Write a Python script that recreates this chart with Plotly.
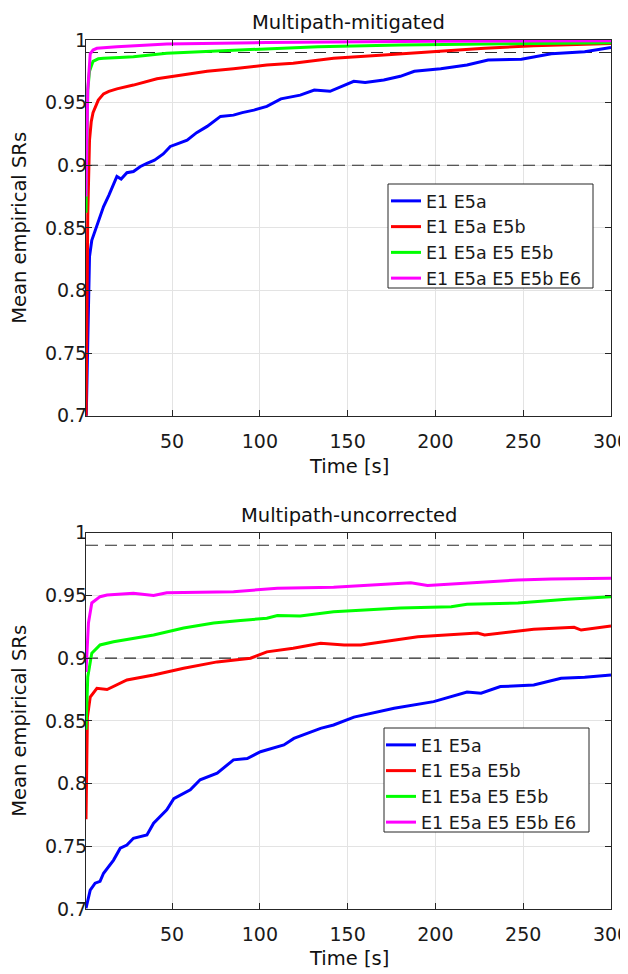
import plotly.graph_objects as go

# ---------------- data ----------------
series_names = ["E1 E5a", "E1 E5a E5b", "E1 E5a E5 E5b", "E1 E5a E5 E5b E6"]
series_colors = ["#0000ff", "#ff0000", "#00ff00", "#ff00ff"]

# Multipath-mitigated
mit_t_e1e5a = [1, 2, 3, 4.3, 6.2, 8, 11, 14, 18.6, 21, 24.3, 28, 32, 35.7, 40, 45, 49, 53, 58.6, 64, 70,
               77.6, 85, 90, 96.6, 104, 112, 123, 131, 140, 153.5, 160, 170.6, 180, 188, 203, 218, 230,
               249, 266, 285, 300]
mit_v_e1e5a = [0.69, 0.76, 0.827, 0.84, 0.848, 0.856, 0.867, 0.876, 0.891, 0.889, 0.894, 0.895, 0.899,
               0.9015, 0.904, 0.909, 0.915, 0.917, 0.92, 0.926, 0.931, 0.939, 0.94, 0.942, 0.944, 0.947,
               0.953, 0.956, 0.96, 0.959, 0.967, 0.966, 0.968, 0.971, 0.975, 0.977, 0.98, 0.984, 0.9846,
               0.989, 0.9907, 0.994]
mit_t_e5b = [1, 2, 3, 4, 5, 6.6, 8, 11, 14, 18.6, 28, 41.4, 56.6, 70, 85, 104, 119, 133, 142, 170.6,
             199, 228, 256, 280, 300]
mit_v_e5b = [0.69, 0.86, 0.92, 0.935, 0.942, 0.947, 0.952, 0.957, 0.959, 0.961, 0.964, 0.969, 0.972,
             0.975, 0.977, 0.98, 0.9814, 0.9835, 0.9854, 0.988, 0.9907, 0.9934, 0.9955, 0.9965, 0.9973]
mit_t_e5 = [1, 2, 3, 5, 8, 11, 20, 28, 47, 85, 133, 180, 240, 300]
mit_v_e5 = [0.862, 0.96, 0.975, 0.983, 0.985, 0.9854, 0.986, 0.9867, 0.9894, 0.992, 0.9947, 0.996,
            0.997, 0.9978]
mit_t_e6 = [1, 2, 3.4, 5, 7.2, 18.6, 47, 104, 200, 300]
mit_v_e6 = [0.875, 0.96, 0.989, 0.992, 0.9934, 0.9947, 0.9968, 0.998, 0.999, 0.9995]

# Multipath-uncorrected
unc_t_e1e5a = [1, 3.4, 6.2, 9, 11, 16.7, 20.5, 24.3, 28, 35.7, 39.5, 47, 51, 60.4, 66, 75.7, 85, 92.8,
               100.4, 113.7, 119.4, 127, 134.6, 142, 153.6, 176.5, 199, 218, 226, 237, 256, 271.6, 285, 300]
unc_v_e1e5a = [0.7006, 0.715, 0.7206, 0.722, 0.7285, 0.739, 0.7485, 0.751, 0.7564, 0.759, 0.7684, 0.779,
               0.788, 0.795, 0.803, 0.8083, 0.8189, 0.820, 0.8254, 0.8308, 0.836, 0.84, 0.844, 0.8467,
               0.853, 0.86, 0.8653, 0.873, 0.872, 0.8773, 0.8786, 0.884, 0.8847, 0.8866]
unc_t_e5b = [1, 1.8, 3.4, 7.2, 13, 24.3, 39.5, 56.6, 75.7, 94.7, 104, 119, 134.6, 148, 157.5, 170.8, 190,
             224, 228, 256, 279, 283, 300]
unc_v_e5b = [0.7716, 0.853, 0.869, 0.876, 0.875, 0.8826, 0.8866, 0.892, 0.897, 0.8999, 0.905, 0.9079,
             0.9118, 0.9105, 0.9105, 0.913, 0.917, 0.920, 0.9185, 0.923, 0.9246, 0.9224, 0.9256]
unc_t_e5 = [1, 2, 4.3, 9, 16.7, 28, 39.5, 56.6, 73.7, 89, 104, 110, 123, 142, 180, 209, 218, 247, 275, 300]
unc_v_e5 = [0.843, 0.885, 0.904, 0.9105, 0.913, 0.916, 0.9185, 0.924, 0.928, 0.930, 0.9318, 0.934,
            0.9336, 0.937, 0.94, 0.941, 0.943, 0.944, 0.947, 0.949]
unc_t_e6 = [1, 2.4, 4.3, 9, 13, 28, 39.5, 47, 85, 110, 142, 161, 186, 195.5, 218, 247, 266, 300]
unc_v_e6 = [0.889, 0.928, 0.944, 0.949, 0.9503, 0.9517, 0.950, 0.9522, 0.953, 0.9557, 0.9565, 0.958,
            0.96, 0.958, 0.96, 0.9623, 0.963, 0.9637]

threshold_levels = [0.99, 0.9]
x_tick_vals = [50, 100, 150, 200, 250, 300]
y_tick_vals = [0.7, 0.75, 0.8, 0.85, 0.9, 0.95, 1.0]
y_tick_text = ["0.7", "0.75", "0.8", "0.85", "0.9", "0.95", "1"]
panel_titles = ["Multipath-mitigated", "Multipath-uncorrected"]
x_label = "Time [s]"
y_label = "Mean empirical SRs"

# ---------------- figure ----------------
FONT = "DejaVu Sans"
OFF = 8  # page body margin around the rendered figure
W, H = 628, 974 - OFF
# target screenshot pixels of the plot areas
L_PX, R_PX = 86, 611
TOP_T, TOP_B = 40, 415.7
BOT_T, BOT_B = 532.7, 909

ML, MR = L_PX - OFF, W - (R_PX - OFF)
MT, MB = TOP_T - OFF, H - (BOT_B - OFF)
plot_h = H - MT - MB
plot_w = W - ML - MR

def py(pix):  # paper y from screenshot pixel y
    return 1 - (pix - OFF - MT) / plot_h

def px(pix):  # paper x from screenshot pixel x
    return (pix - OFF - ML) / plot_w

fig = go.Figure()

panels = [
    ([mit_t_e1e5a, mit_t_e5b, mit_t_e5, mit_t_e6], [mit_v_e1e5a, mit_v_e5b, mit_v_e5, mit_v_e6], "x", "y", "legend"),
    ([unc_t_e1e5a, unc_t_e5b, unc_t_e5, unc_t_e6], [unc_v_e1e5a, unc_v_e5b, unc_v_e5, unc_v_e6], "x2", "y2", "legend2"),
]

for ts, vs, xa, ya, lg in panels:
    for lvl in threshold_levels:
        fig.add_trace(go.Scatter(x=[1, 300], y=[lvl, lvl], mode="lines", xaxis=xa, yaxis=ya,
                                 line=dict(color="#2a2a2a", width=1.2, dash="12px,7px"),
                                 showlegend=False, hoverinfo="skip"))
    for name, col, t, v in zip(series_names, series_colors, ts, vs):
        fig.add_trace(go.Scatter(x=t, y=v, mode="lines", name=name, xaxis=xa, yaxis=ya,
                                 line=dict(color=col, width=3), legend=lg))

axis_common = dict(
    showline=True, linecolor="#262626", linewidth=1, mirror="ticks",
    ticks="inside", ticklen=6, tickcolor="#262626", automargin=False,
    showgrid=True, gridcolor="#e3e3e3", gridwidth=1, zeroline=False,
    tickfont=dict(family=FONT, size=19, color="#1a1a1a"),
)

top_dom = [py(TOP_B), py(TOP_T)]
bot_dom = [py(BOT_B), py(BOT_T)]

legend_common = dict(xanchor="left", yanchor="top", bgcolor="rgba(0,0,0,0)", borderwidth=0,
                     font=dict(family=FONT, size=17.5, color="#1a1a1a"), itemwidth=30,
                     tracegroupgap=0)

fig.update_layout(
    width=W, height=H,
    margin=dict(l=ML, r=MR, t=MT, b=MB, autoexpand=False),
    paper_bgcolor="white", plot_bgcolor="white",
    font=dict(family=FONT, size=19, color="#1a1a1a"),
    xaxis=dict(domain=[0, 1], anchor="y", range=[1, 300], tickvals=x_tick_vals,
               ticklabelstandoff=8, ticklabeloverflow="allow", **axis_common),
    yaxis=dict(domain=top_dom, anchor="x", range=[0.7, 1.0], tickvals=y_tick_vals,
               ticktext=y_tick_text, ticklabelstandoff=-6, **axis_common),
    xaxis2=dict(domain=[0, 1], anchor="y2", range=[1, 300], tickvals=x_tick_vals,
                ticklabelstandoff=8, ticklabeloverflow="allow", **axis_common),
    yaxis2=dict(domain=bot_dom, anchor="x2", range=[0.7, 1.0], tickvals=y_tick_vals,
                ticktext=y_tick_text, ticklabelstandoff=-6, **axis_common),
    legend=dict(x=px(386), y=py(183), **legend_common),
    legend2=dict(x=px(381), y=py(727), **legend_common),
    showlegend=True,
)

# legend boxes (white, framed)
for (x0, y0, x1, y1) in [(388, 184, 593, 288), (384, 728, 589, 832)]:
    fig.add_shape(type="rect", xref="paper", yref="paper",
                  x0=px(x0), x1=px(x1), y0=py(y1), y1=py(y0),
                  fillcolor="white", line=dict(color="#262626", width=1), layer="above")

annos = []
for title, ty in zip(panel_titles, [22, 515]):
    annos.append(dict(text=title, x=0.5, y=py(ty), xref="paper", yref="paper",
                      xanchor="center", yanchor="middle", showarrow=False,
                      font=dict(family=FONT, size=19.5, color="#111111")))
for ty in [466, 958]:
    annos.append(dict(text=x_label, x=0.5, y=py(ty), xref="paper", yref="paper",
                      xanchor="center", yanchor="middle", showarrow=False,
                      font=dict(family=FONT, size=19.5, color="#111111")))
for ty in [(TOP_T + TOP_B) / 2, (BOT_T + BOT_B) / 2]:
    annos.append(dict(text=y_label, x=px(20), y=py(ty), xref="paper", yref="paper",
                      xanchor="center", yanchor="middle", textangle=-90, showarrow=False,
                      font=dict(family=FONT, size=19.5, color="#111111")))
fig.update_layout(annotations=annos)

fig.write_html("out.html", config={"displayModeBar": False})
